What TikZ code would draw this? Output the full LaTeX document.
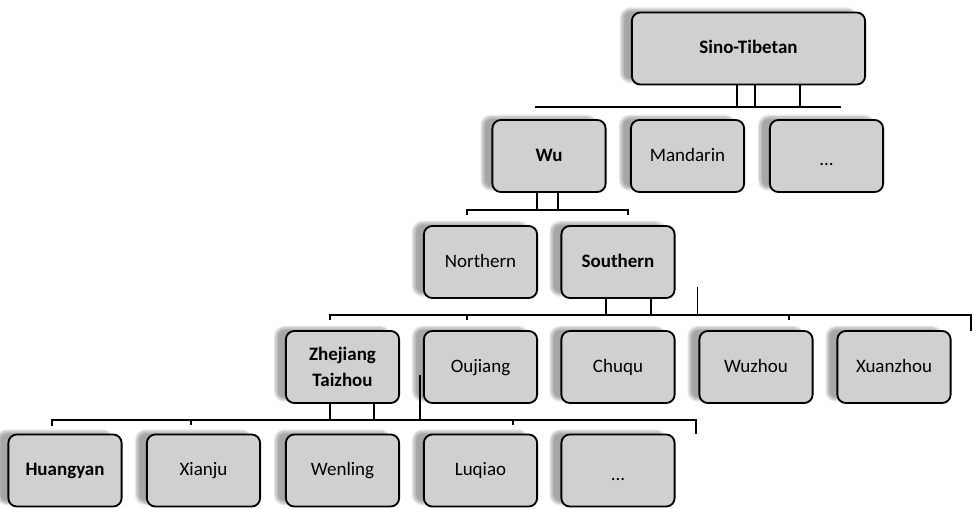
\documentclass[tikz,border=0pt]{standalone}
\usepackage{fontspec}
\setmainfont{Carlito}
\usetikzlibrary{calc,shadows.blur}
\definecolor{boxgrey}{RGB}{208,208,208}
\tikzset{
  langbox/.style={draw=black, line width=1.3pt, fill=boxgrey, rounded corners=6pt,
    minimum width=2.83cm, minimum height=1.8cm, align=center, inner sep=2pt,
    text height=2.1ex, text depth=0.5ex,
    font=\fontsize{13.5}{18}\selectfont,
    blur shadow={shadow xshift=-0.25cm, shadow yshift=0.08cm, shadow blur steps=10, shadow opacity=35}},
  keybox/.style={langbox, font=\fontsize{13.5}{18}\selectfont\bfseries},
  branch/.style={line width=1.3pt, line cap=rect},
}
\newcommand{\lowdots}{\raisebox{-0.5ex}{...}}

\begin{document}
\begin{tikzpicture}[x=0.025cm, y=-0.025cm]
  \useasboundingbox (0,0) rectangle (975,508);
  % family tree boxes, one row per level
  \node[keybox, minimum width=5.83cm] (sino) at (748.5,48.5) {Sino-Tibetan};
  \node[keybox]  (wu)       at (549,156)   {Wu};
  \node[langbox] (mandarin) at (687.5,156) {Mandarin};
  \node[langbox] (dotsA)    at (826.5,156) {\lowdots};
  \node[langbox] (northern) at (480.5,262) {Northern};
  \node[keybox]  (southern) at (618,262)   {Southern};
  \node[keybox, text height=, text depth=] (taizhou) at (342.5,367) {Zhejiang\\Taizhou};
  \node[langbox] (oujiang)  at (480.5,367) {Oujiang};
  \node[langbox] (chuqu)    at (618,367)   {Chuqu};
  \node[langbox] (wuzhou)   at (756,367)   {Wuzhou};
  \node[langbox] (xuanzhou) at (894,367)   {Xuanzhou};
  \node[keybox]  (huangyan) at (65,470.5)  {Huangyan};
  \node[langbox] (xianju)   at (203.5,470.5) {Xianju};
  \node[langbox] (wenling)  at (342.5,470.5) {Wenling};
  \node[langbox] (luqiao)   at (480.5,470.5) {Luqiao};
  \node[langbox] (dotsB)    at (618,470.5) {\lowdots};
  % bar ends
  \coordinate (barAw) at (536,107);  \coordinate (barAe) at (840,107);
  \coordinate (barBw) at (467,210);  \coordinate (barBe) at (628,210);
  \coordinate (barCw) at (330,315);  \coordinate (barCe) at (971,315);
  \coordinate (barDw) at (52,420);   \coordinate (barDe) at (696,420);
  % Sino-Tibetan -> row 2
  \draw[branch] (barAw) -- (barAe);
  \foreach \dx in {-11.5,6.5,51.5}
    \draw[branch] ($(sino.south)+(\dx,0)$) -- ($(sino.south |- barAw)+(\dx,0)$);
  % Wu -> row 3
  \draw[branch] (barBw) -- (barBe) (barBw) -- ++(0,4) (barBe) -- ++(0,4);
  \foreach \dx in {-12,9}
    \draw[branch] ($(wu.south)+(\dx,0)$) -- ($(wu.south |- barBw)+(\dx,0)$);
  % Southern -> row 4
  \draw[branch] (barCw) -- (barCe) (barCw) -- ++(0,4) (barCe) -- ++(0,15);
  \foreach \x in {467,789}
    \draw[branch] (\x,315) -- (\x,319);
  \foreach \dx in {-12,33}
    \draw[branch] ($(southern.south)+(\dx,0)$) -- ($(southern.south |- barCw)+(\dx,0)$);
  \draw[branch] ($(southern.south east)+(22,-11)$) coordinate (southX) -- (southX |- barCw);
  % Zhejiang Taizhou -> row 5
  \draw[branch] (barDw) -- (barDe) (barDw) -- ++(0,5) (barDe) -- ++(0,13);
  \foreach \x in {191,513}
    \draw[branch] (\x,420) -- (\x,424);
  \foreach \dx in {-12.5,31.5}
    \draw[branch] ($(taizhou.south)+(\dx,0)$) -- ($(taizhou.south |- barDw)+(\dx,0)$);
  \draw[branch] ($(taizhou.south east)+(20,-28)$) coordinate (taiX) -- (taiX |- barDw);
\end{tikzpicture}
\end{document}
